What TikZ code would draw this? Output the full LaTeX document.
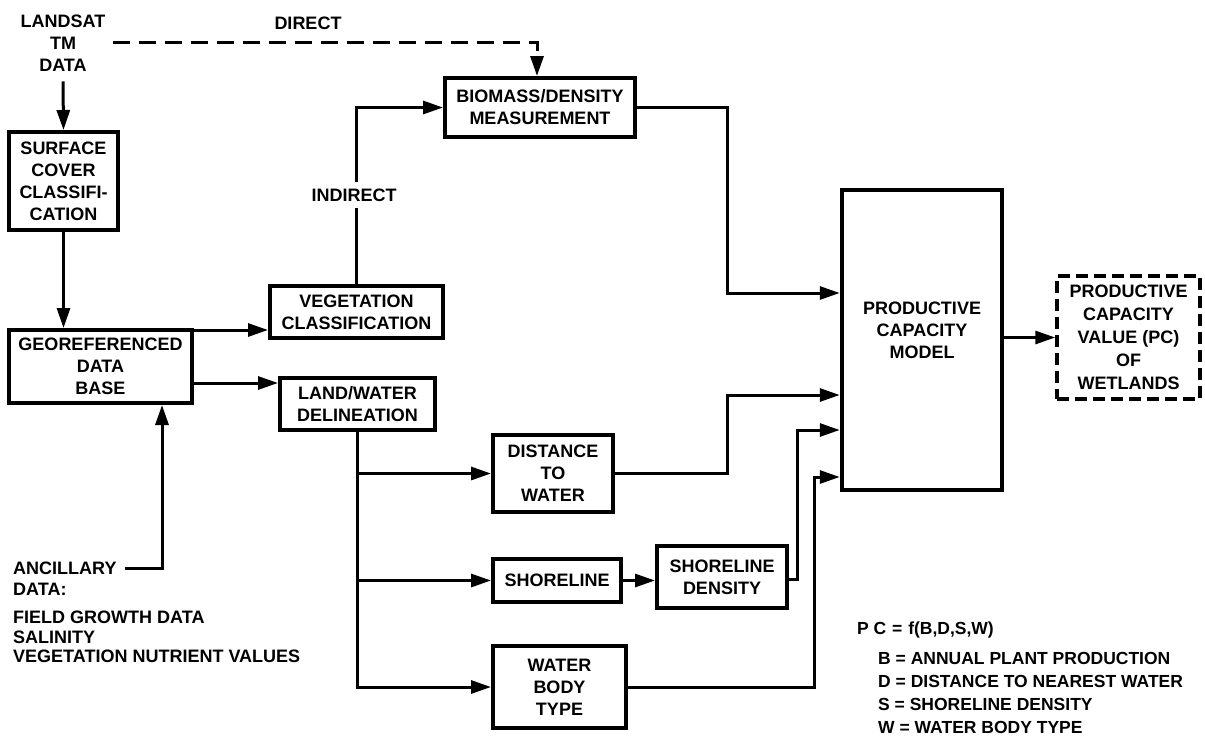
\documentclass[tikz,border=0pt]{standalone}
\usepackage{fontspec}
\setmainfont{Liberation Sans}
\usetikzlibrary{arrows.meta,calc}
\begin{document}
\begin{tikzpicture}[x=1pt,y=-1pt,
  every node/.style={font=\fontsize{18}{22}\selectfont\bfseries, align=center, inner sep=0pt},
  box/.style={draw, line width=4pt},
  arr/.style={line width=3pt, -{Triangle[length=20pt,width=13pt]}},
  dasharr/.style={line width=3pt, dash pattern=on 17pt off 9pt, -{Triangle[length=20pt,width=13pt]}},
  lbl/.style={font=\fontsize{18}{22}\selectfont\bfseries},
  legend/.style={font=\fontsize{17.5}{23}\selectfont\bfseries, align=left, anchor=west}
]
\useasboundingbox (0,0) rectangle (1205,737);

% nodes
\node (landsat) at (63,43) {LANDSAT\\TM\\DATA};
\node[box, minimum width=109pt, minimum height=98pt] (surf) at (63.5,181) {SURFACE\\COVER\\CLASSIFI-\\CATION};
\node[box, minimum width=183pt, minimum height=73pt] (geo) at (100.5,366.5) {GEOREFERENCED\\DATA\\BASE};
\node[box, minimum width=173pt, minimum height=52pt] (veg) at (356.5,312) {VEGETATION\\CLASSIFICATION};
\node[box, minimum width=155pt, minimum height=52pt] (land) at (357.5,404) {LAND/WATER\\DELINEATION};
\node[box, minimum width=190pt, minimum height=59pt] (bio) at (540,107.5) {BIOMASS/DENSITY\\MEASUREMENT};
\node[box, minimum width=120pt, minimum height=77pt] (dist) at (553,473.5) {DISTANCE\\TO\\WATER};
\node[box, minimum width=128pt, minimum height=43pt] (shore) at (557,580.5) {SHORELINE};
\node[box, minimum width=130pt, minimum height=62pt] (sd) at (722,577) {SHORELINE\\DENSITY};
\node[box, minimum width=133pt, minimum height=82pt] (wbt) at (559.5,687) {WATER\\BODY\\TYPE};
\node[draw, line width=4.5pt, minimum width=160pt, minimum height=300pt] (pcm) at (922,340) {};
\node (pcmtext) at (922,330) {PRODUCTIVE\\CAPACITY\\MODEL};
\node[draw, line width=3.5pt, dash pattern=on 12pt off 6pt, minimum width=143pt, minimum height=123pt, font=\fontsize{18}{23}\selectfont\bfseries] (out) at (1128.5,337.5) {PRODUCTIVE\\CAPACITY\\VALUE (PC)\\OF\\WETLANDS};

\node[anchor=west] (anc) at (13,568) {ANCILLARY};
\node[anchor=west] (ancdata) at (13,589) {DATA:};
\node[legend, font=\fontsize{18}{19.5}\selectfont\bfseries] (anclist) at (13,637) {FIELD GROWTH DATA\\SALINITY\\VEGETATION NUTRIENT VALUES};

\node[legend] (pcf) at (857,630) {P C\,\,=\,\,f(B,D,S,W)};
\node[legend] (leg) at (878,693) {B = ANNUAL PLANT PRODUCTION\\D = DISTANCE TO NEAREST WATER\\S = SHORELINE DENSITY\\W = WATER BODY TYPE};

% coordinates
\coordinate (dstart) at (113,42);
\coordinate (xb1) at (727,0);
\coordinate (xb3) at (797,0);
\coordinate (xb4) at (814,0);
\coordinate (p1) at ([yshift=47pt]pcm.west);
\coordinate (p2) at ([yshift=-55pt]pcm.west);
\coordinate (p3) at ([yshift=-90pt]pcm.west);
\coordinate (p4) at ([yshift=-137pt]pcm.west);
\coordinate (g1) at ([yshift=-2pt]geo.north east);
\coordinate (g2) at ([yshift=-7pt]land.north west);
\coordinate (ancx) at ([xshift=61.5pt]geo.south);

% connectors
\draw[arr] (landsat.south) ++(0,10) -- (surf.north);
\draw[dasharr] (dstart) -| ([xshift=-3pt]bio.north);
\node[lbl] (direct) at (308,23) {DIRECT};
\draw[arr] (surf.south) -- (surf.south |- geo.north);
\draw[arr] (g1) -- (g1 -| veg.west);
\draw[arr] (geo.east |- g2) -- (g2);
\draw[arr] ([xshift=8pt]anc.east) -| (ancx);
\draw[arr] (veg.north) |- (bio.west);
\node[lbl, fill=white, inner ysep=7pt, inner xsep=2pt] (indirect) at (354,195) {INDIRECT};
\draw[arr] (bio.east) -- (bio.east -| xb1) |- (p1);
\draw[arr] (land.south) |- (wbt.west);
\draw[arr] (land.south |- dist.west) -- (dist.west);
\draw[arr] (land.south |- shore.west) -- (shore.west);
\draw[arr] (shore.east) -- (shore.east -| sd.west);
\draw[arr] (dist.east) -- (dist.east -| xb1) |- (p2);
\draw[arr] ([yshift=-2pt]sd.east) -- ([yshift=-2pt]sd.east -| xb3) |- (p3);
\draw[arr] (wbt.east) -- (wbt.east -| xb4) |- (p4);
\draw[arr] (pcm.east |- out.west) -- (out.west);
\end{tikzpicture}
\end{document}
